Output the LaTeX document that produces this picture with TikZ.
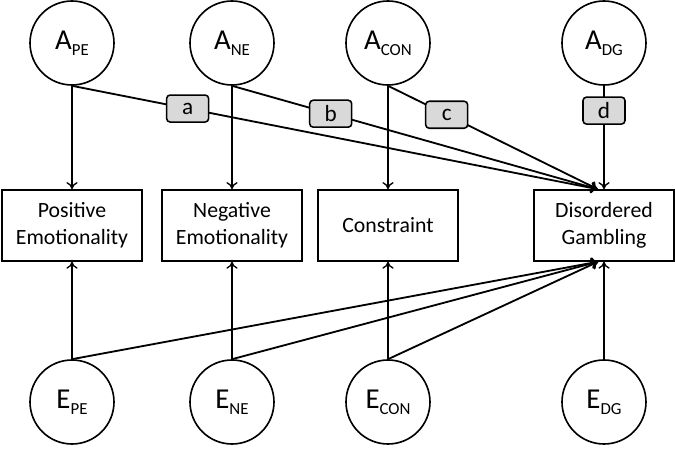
\documentclass[tikz,border=0pt]{standalone}
\usepackage{fontspec}
\setmainfont{Carlito}
\usetikzlibrary{arrows.meta}

% latent variable label: big letter with lowered index
\newcommand{\lv}[2]{{\fontsize{20.5}{24}\selectfont #1\raisebox{-0.21em}{\fontsize{12}{14}\selectfont #2}}}

\begin{document}
\begin{tikzpicture}[
    latent/.style={draw, circle, minimum size=2.1cm, inner sep=0pt, line width=1.15pt},
    trait/.style={draw, rectangle, minimum width=3.5cm, minimum height=1.775cm,
                  align=center, font=\fontsize{15.5}{19}\selectfont, line width=1.1pt},
    coef/.style={draw, rectangle, rounded corners=2.5pt, fill=gray!30, minimum width=1.05cm,
                 minimum height=0.675cm, inner sep=0pt, font=\fontsize{16.5}{18}\selectfont, line width=1.1pt},
    arrow/.style={-{To[length=5pt,width=8pt]}, line width=0.95pt},
    load/.style={arrow, line width=1.3pt}
]
    \useasboundingbox (0,0) rectangle (16.875,11.275);

    % Top row: additive genetic factors
    \node[latent] (ape) at (1.8, 10.2) {\lv{A}{PE}};
    \node[latent] (ane) at (5.8, 10.2) {\lv{A}{NE}};
    \node[latent] (acon) at (9.7, 10.2) {\lv{A}{CON}};
    \node[latent] (adg) at (15.1, 10.2) {\lv{A}{DG}};

    % Middle row: observed measures
    \node[trait] (pe) at (1.8, 5.64) {Positive\\Emotionality};
    \node[trait] (ne) at (5.8, 5.64) {Negative\\Emotionality};
    \node[trait] (con) at (9.7, 5.64) {Constraint};
    \node[trait] (dg) at (15.1, 5.64) {Disordered\\Gambling};

    % Bottom row: nonshared environment factors
    \node[latent] (epe) at (1.8, 1.225) {\lv{E}{PE}};
    \node[latent] (ene) at (5.8, 1.225) {\lv{E}{NE}};
    \node[latent] (econ) at (9.7, 1.225) {\lv{E}{CON}};
    \node[latent] (edg) at (15.1, 1.225) {\lv{E}{DG}};

    % Arrows
    \draw[arrow] (ape) -- (pe);
    \draw[arrow] (ane) -- (ne);
    \draw[arrow] (acon) -- (con);
    \draw[arrow] (epe) -- (pe);
    \draw[arrow] (ene) -- (ne);
    \draw[arrow] (econ) -- (con);
    \draw[arrow] (edg) -- (dg);

    % Paths to gambling
    \draw[load] (ape.south) -- node[coef, pos=0.22] (la) {a} (dg.100);
    \draw[load] (ane.south) -- node[coef, pos=0.27] (lb) {b} (dg.100);
    \draw[load] (acon.south) -- node[coef, pos=0.28] (lc) {c} (dg.100);
    \draw[arrow] (adg.south) -- node[coef, pos=0.24] (ld) {d} (dg.north);

    \draw[load] (epe.north) -- (dg.261);
    \draw[load] (ene.north) -- (dg.261);
    \draw[load] (econ.north) -- (dg.261);
\end{tikzpicture}
\end{document}
